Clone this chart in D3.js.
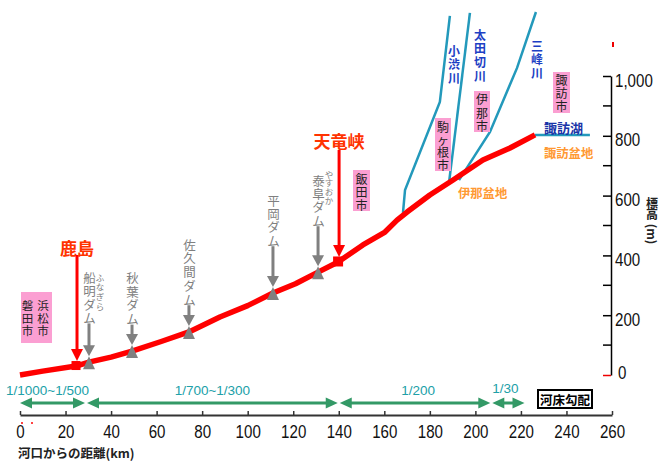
<!DOCTYPE html>
<html><head><meta charset="utf-8">
<script src="https://cdn.jsdelivr.net/npm/d3@7"></script>
<style>
body{margin:0;background:#fff}
svg{display:block}
</style></head><body>
<svg id="c" width="661" height="462"></svg>
<script>
// ---------------- data ----------------
const xTicks = [0,20,40,60,80,100,120,140,160,180,200,220,240,260];
const yTicks = [0,200,400,600,800,1000];
const yTickLabels = ["0","200","400","600","800","1,000"];
const yMinor = [100,300,500,700,900];

// river-bed profile of the Tenryu river (km from mouth, elevation m)
const profileKm   = [0, 10, 24.6, 30.3, 40, 49.2, 62, 74.2, 87.8, 100, 111.1, 121, 130.9, 139.7, 150.6, 160.3, 165.6, 170, 180, 190.2, 203.3, 215.2, 226.2];
const profileElev = [0, 13, 30,   43,   60, 80,   112, 144, 194,  232, 274,   305, 344,   378,   435,   478,   518,   545, 602, 652,   719,   759,   803];

// tributaries
const koshibuKm = [168.2, 169.1, 184.4, 188.8];
const koshibuElev = [542, 619, 913, 1201];
const otagiriKm = [188.4, 197.6];
const otagiriElev = [642, 1211];
const mibuKm = [192.8, 206.4, 218.3, 226.6];
const mibuElev = [652, 813, 1027, 1214];
const lakeKm = [226.2, 250.3];
const lakeElev = [803, 803];

// dams (km)
const damNames = ["船明ダム","秋葉ダム","佐久間ダム","平岡ダム","泰阜ダム"];
const damKm = [30.3, 49.2, 74.2, 111.1, 130.9];
const damRuby = ["ふなぎら","","","","やすおか"];

// main points
const pointNames = ["鹿島","天竜峡"];
const pointKm = [24.6, 139.7];

// river-bed gradient
const gradFrom = [0, 29, 140, 207];
const gradTo = [29, 140, 207, 222];
const gradLabels = ["1/1000~1/500","1/700~1/300","1/200","1/30"];

// ---------------- layout ----------------
const CJK = "'Noto Sans CJK JP','Noto Sans CJK SC',sans-serif";
const NUM = "'Liberation Sans Narrow','Liberation Sans',Arial,sans-serif";
const NS = 0.84; // horizontal squeeze for numeric labels
const svg = d3.select("#c");
const x = d3.scaleLinear().domain([0,260]).range([20,612]);
const y = d3.scaleLinear().domain([0,1000]).range([375,76]);
const profile = profileKm.map((k,i)=>[k,profileElev[i]]);
const elevAt = k => { const i = d3.bisector(d=>d[0]).left(profile,k);
  if (i<=0) return profile[0][1]; if (i>=profile.length) return profile[profile.length-1][1];
  const a=profile[i-1], b=profile[i]; return a[1]+(b[1]-a[1])*(k-a[0])/(b[0]-a[0]); };

const line = d3.line().x(d=>x(d[0])).y(d=>y(d[1]));

// vertical Japanese text, one glyph per line
function vtext(g, chars, cx, cy0, step, size, color, weight){
  Array.from(chars).forEach((ch,i)=>{
    g.append("text").attr("x",cx).attr("y",cy0+i*step)
      .attr("text-anchor","middle").attr("dominant-baseline","central")
      .style("font-family",CJK).style("font-size",size+"px")
      .style("font-weight",weight||"normal").attr("fill",color).text(ch);
  });
}
function downArrow(g, cx, y0, tip, color, headLen, headW, w){
  g.append("line").attr("x1",cx).attr("x2",cx).attr("y1",y0).attr("y2",tip-headLen+1)
    .attr("stroke",color).attr("stroke-width",w);
  g.append("path").attr("d",`M${cx-headW/2},${tip-headLen}L${cx+headW/2},${tip-headLen}L${cx},${tip}Z`).attr("fill",color);
}

// ---------------- axes ----------------
const xAxis = svg.append("g").attr("transform","translate(0,415)")
  .call(d3.axisBottom(x).tickValues(xTicks).tickSize(-4).tickSizeOuter(0).tickFormat(d3.format("d")));
xAxis.select(".domain").attr("stroke","#333").attr("stroke-width",2);
xAxis.selectAll(".tick line").attr("stroke","#333").attr("stroke-width",1.5);
xAxis.selectAll(".tick text").attr("y",23).attr("dy",0).attr("transform",`scale(${NS},1)`)
  .style("font-family",NUM).style("font-size","18px").attr("fill","#111");

const yAxis = svg.append("g").attr("transform","translate(611,0)")
  .call(d3.axisRight(y).tickValues(yTicks).tickSize(-8).tickSizeOuter(0).tickPadding(4)
    .tickFormat((d,i)=>yTickLabels[i]));
yAxis.select(".domain").attr("stroke","#000").attr("stroke-width",1.5);
yAxis.selectAll(".tick line").attr("stroke",d=>d===0?"#e00":"#000").attr("stroke-width",1.5);
yAxis.selectAll(".tick text").attr("y",d=>d===0?3:10).attr("dy",0)
  .attr("x",d=>(d===0?7:4)/NS).attr("transform",`scale(${NS},1)`)
  .style("font-family",NUM).style("font-size","18px").attr("fill","#111");
svg.append("g").selectAll("line").data(yMinor).join("line")
  .attr("x1",603).attr("x2",611).attr("y1",d=>y(d)).attr("y2",d=>y(d))
  .attr("stroke","#000").attr("stroke-width",1.5);

// stray red marks as in original
svg.append("line").attr("x1",613).attr("x2",613).attr("y1",42).attr("y2",47).attr("stroke","#e00").attr("stroke-width",2);
svg.append("rect").attr("x",21).attr("y",422).attr("width",2).attr("height",2).attr("fill","#f44");
svg.append("rect").attr("x",31).attr("y",422).attr("width",2).attr("height",2).attr("fill","#f44");

// axis titles
svg.append("text").attr("x",18).attr("y",458).style("font-family",CJK).style("font-size","12.5px")
  .style("font-weight","bold").attr("fill","#222").text("河口からの距離(km)");
vtext(svg,"標高",652,202,11.5,12,"#222","bold");
svg.append("text").attr("transform","translate(652,234) rotate(90)").attr("text-anchor","middle")
  .attr("dominant-baseline","central").style("font-family",CJK).style("font-size","12px")
  .style("font-weight","bold").attr("fill","#222").text("(m)");

// ---------------- rivers ----------------
const riverColor = "#2399bb";
[[koshibuKm,koshibuElev],[otagiriKm,otagiriElev],[mibuKm,mibuElev],[lakeKm,lakeElev]].forEach(([ks,es])=>{
  svg.append("path").attr("d",line(ks.map((k,i)=>[k,es[i]]))).attr("fill","none")
    .attr("stroke",riverColor).attr("stroke-width",2.5);
});

// main profile
svg.append("path").attr("d",line(profile)).attr("fill","none").attr("stroke","#ff0000")
  .attr("stroke-width",5.5).attr("stroke-linejoin","round");

// ---------------- dams ----------------
const damTop = [277.5, 277.5, 244, 200, 180];
const damStep = [13.3, 13.7, 13.8, 13.4, 13.4];
const rubyTop = [276.5, 0, 0, 0, 173.5];
const rubyStep = [9.8, 0, 0, 0, 8.7];
const gray = "#808080";
damNames.forEach((n,i)=>{
  const cx = x(damKm[i]), ly = y(elevAt(damKm[i]));
  const g = svg.append("g");
  vtext(g,n,cx+0.5,damTop[i],damStep[i],12.5,gray,"normal");
  if (damRuby[i]) vtext(g,damRuby[i],cx+11,rubyTop[i],rubyStep[i],8.5,gray,"normal");
  const y0 = damTop[i]+(n.length-1)*damStep[i]+6;
  downArrow(g,cx,y0,ly-6,gray,11,12,3);
  g.append("path").attr("d",`M${cx},${ly-6}L${cx+6},${ly+7}L${cx-6},${ly+7}Z`).attr("fill",gray);
});

// ---------------- main points ----------------
const ptLabelY = [247, 140];
const ptShaftTop = [255, 150];
const ptSq = [9, 10];
pointNames.forEach((n,i)=>{
  const cx = x(pointKm[i]), ly = y(elevAt(pointKm[i]));
  svg.append("text").attr("x",cx+1).attr("y",ptLabelY[i]).attr("text-anchor","middle")
    .attr("dominant-baseline","central").style("font-family",CJK).style("font-size","17px")
    .style("font-weight","bold").attr("fill","#ff3300").text(n);
  downArrow(svg,cx+1,ptShaftTop[i],ly-5,"#ff0000",12,12,3);
  svg.append("rect").attr("x",cx-ptSq[i]/2).attr("y",ly-ptSq[i]/2-0.5).attr("width",ptSq[i]).attr("height",ptSq[i]).attr("fill","#ff0000");
});

// ---------------- city boxes ----------------
const pink = "#fb9fd2";
function cityBox(bx,by,bw,bh){ svg.append("rect").attr("x",bx).attr("y",by).attr("width",bw).attr("height",bh).attr("fill",pink); }
cityBox(21,292,31,51);
vtext(svg,"磐田市",27.5,305,12.5,11.5,"#222");
vtext(svg,"浜松市",43,305,12.5,11.5,"#222");
cityBox(353,170,17,41); vtext(svg,"飯田市",361.5,178,13,12,"#222");
cityBox(435,118,16,53); vtext(svg,"駒ヶ根市",443,126.5,12.5,12,"#222");
cityBox(474,91,16,41); vtext(svg,"伊那市",482,98.5,13.7,12,"#222");
cityBox(553,72,17,41); vtext(svg,"諏訪市",561.5,79,13,12,"#222");

// river names
const blue = "#1d3fc4";
vtext(svg,"小渋川",454,50,13.5,12,blue,"bold");
vtext(svg,"太田切川",480,34,13.7,12,blue,"bold");
vtext(svg,"三峰川",537,45,13.5,12,blue,"bold");
svg.append("text").attr("x",544).attr("y",127).attr("dominant-baseline","central")
  .style("font-family",CJK).style("font-size","13px").style("font-weight","bold").attr("fill","#1a35a8").text("諏訪湖");
const orange = "#ff9933";
svg.append("text").attr("x",544).attr("y",153).attr("dominant-baseline","central")
  .style("font-family",CJK).style("font-size","12.3px").style("font-weight","bold").attr("fill",orange).text("諏訪盆地");
svg.append("text").attr("x",458).attr("y",193).attr("dominant-baseline","central")
  .style("font-family",CJK).style("font-size","12.3px").style("font-weight","bold").attr("fill",orange).text("伊那盆地");

// ---------------- gradient arrows ----------------
const green = "#339966", teal = "#20a0a8";
const gradDx = [-5,0,3,-3];
const gradLabY = [395,395,395,393];
const ga = svg.append("g");
gradFrom.forEach((f,i)=>{
  const x1 = x(f)+(i?1:0), x2 = x(gradTo[i])-1, yy = 403, hl = 12, hw = 5.5;
  ga.append("line").attr("x1",x1+hl-1).attr("x2",x2-hl+1).attr("y1",yy).attr("y2",yy).attr("stroke",green).attr("stroke-width",3);
  ga.append("path").attr("d",`M${x1},${yy}L${x1+hl},${yy-hw}L${x1+hl},${yy+hw}Z`).attr("fill",green);
  ga.append("path").attr("d",`M${x2},${yy}L${x2-hl},${yy-hw}L${x2-hl},${yy+hw}Z`).attr("fill",green);
  ga.append("text").attr("x",(x1+x2)/2+gradDx[i]).attr("y",gradLabY[i]).attr("text-anchor","middle")
    .style("font-family","'Liberation Sans',Arial,sans-serif").style("font-size","13.5px").attr("fill",teal).text(gradLabels[i]);
});
svg.append("rect").attr("x",538).attr("y",390).attr("width",54).attr("height",18)
  .attr("fill","#fff").attr("stroke","#000").attr("stroke-width",2);
svg.append("text").attr("x",565).attr("y",399.5).attr("text-anchor","middle").attr("dominant-baseline","central")
  .style("font-family",CJK).style("font-size","12.5px").style("font-weight","bold").attr("fill","#000").text("河床勾配");
</script>
</body></html>
